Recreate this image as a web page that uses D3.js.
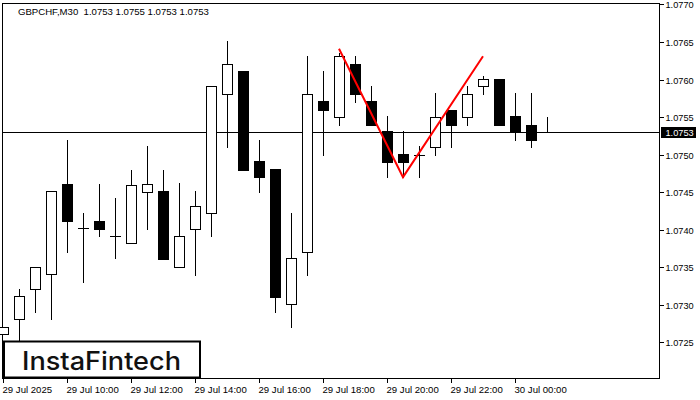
<!DOCTYPE html>
<html><head><meta charset="utf-8">
<script src="https://cdn.jsdelivr.net/npm/d3@7"></script>
<style>html,body{margin:0;padding:0;background:#fff;}svg{display:block;}</style>
</head><body>
<script>
const timeLabels = ["29 Jul 2025","29 Jul 10:00","29 Jul 12:00","29 Jul 14:00","29 Jul 16:00","29 Jul 18:00","29 Jul 20:00","29 Jul 22:00","30 Jul 00:00"];
const timeLabelIdx = [0,4,8,12,16,20,24,28,32];
const opens  = [1.07261,1.07281,1.07321,1.07341,1.07461,1.07402,1.07411,1.07391,1.07382,1.07450,1.07451,1.07351,1.07401,1.07422,1.07581,1.07611,1.07491,1.07481,1.07301,1.07371,1.07571,1.07550,1.07621,1.07571,1.07531,1.07501,1.07500,1.07510,1.07560,1.07550,1.07591,1.07601,1.07551,1.07540,1.0753];
const highs  = [1.07270,1.07321,1.07351,1.07451,1.07520,1.07422,1.07461,1.07442,1.07480,1.07511,1.07480,1.07462,1.07451,1.07591,1.07651,1.07611,1.07520,1.07481,1.07422,1.07631,1.07611,1.07635,1.07631,1.07591,1.07551,1.07531,1.07511,1.07582,1.07560,1.07591,1.07605,1.07601,1.07582,1.07582,1.0755];
const lows   = [1.07261,1.07253,1.07291,1.07281,1.07371,1.07331,1.07391,1.07362,1.07382,1.07401,1.07361,1.07351,1.07340,1.07391,1.07510,1.07479,1.07450,1.07291,1.07271,1.07340,1.07499,1.07539,1.07570,1.07540,1.07470,1.07470,1.07470,1.07500,1.07510,1.07540,1.07581,1.07540,1.07520,1.07510,1.0753];
const closes = [1.07270,1.07312,1.07351,1.07451,1.07411,1.07402,1.07401,1.07391,1.07460,1.07461,1.07361,1.07391,1.07431,1.07591,1.07621,1.07479,1.07470,1.07311,1.07362,1.07581,1.07559,1.07631,1.07581,1.07540,1.07490,1.07490,1.07500,1.07550,1.07540,1.07581,1.07601,1.07540,1.07531,1.07520,1.0753];
const yTicks = ["1.0770","1.0765","1.0760","1.0755","1.0750","1.0745","1.0740","1.0735","1.0730","1.0725"];
const patternIdx = [21,25,30];
const patternPrice = [1.07641,1.07470,1.07631];
const currentPrice = 1.0753;
const headerText = "GBPCHF,M30  1.0753 1.0755 1.0753 1.0753";

const W=700,H=400;
const svg=d3.select("body").append("svg").attr("width",W).attr("height",H);
const x=d3.scaleLinear().domain([0,34]).range([3,547]);
const y=d3.scaleLinear().domain([1.0725,1.0770]).range([342.4,4.4]);
const fontAxis='"Liberation Sans", Arial, sans-serif';

// frame
svg.append("rect").attr("x",2.5).attr("y",3.5).attr("width",657).attr("height",375)
  .attr("fill","none").attr("stroke","#000").attr("stroke-width",1);

// header
svg.append("text").attr("x",18).attr("y",15).attr("font-family",fontAxis).attr("font-size","9.6px")
  .attr("fill","#000").attr("xml:space","preserve").style("white-space","pre").text(headerText);

// y axis ticks & labels
const yg=svg.append("g");
yTicks.forEach(t=>{
  const yy=Math.round(y(+t))+0.5;
  yg.append("line").attr("x1",660).attr("x2",664).attr("y1",yy).attr("y2",yy).attr("stroke","#000");
  yg.append("text").attr("x",665.5).attr("y",yy).attr("dy","0.36em").attr("font-family",fontAxis)
    .attr("font-size","9.2px").attr("fill","#000").text(t);
});

// x axis ticks & labels
const xg=svg.append("g");
timeLabelIdx.forEach((idx,k)=>{
  const xx=Math.round(x(idx))+0.5;
  xg.append("line").attr("x1",xx).attr("x2",xx).attr("y1",379).attr("y2",383).attr("stroke","#000");
  xg.append("text").attr("x",xx-1).attr("y",393).attr("font-family",fontAxis)
    .attr("font-size","9.6px").attr("fill","#000").text(timeLabels[k]);
});

// price line
const py=Math.round(y(currentPrice))+0.5;
svg.append("line").attr("x1",3).attr("x2",659).attr("y1",py).attr("y2",py).attr("stroke","#000");

// candles
const cg=svg.append("g");
opens.forEach((o,i)=>{
  const c=Math.round(x(i));
  const hi=highs[i],lo=lows[i],cl=closes[i];
  const yH=Math.round(y(hi)),yL=Math.round(y(lo));
  const yT=Math.round(y(Math.max(o,cl))),yB=Math.round(y(Math.min(o,cl)));
  cg.append("line").attr("x1",c+0.5).attr("x2",c+0.5).attr("y1",yH).attr("y2",yL+1).attr("stroke","#000");
  if(yB-yT<1){
    cg.append("line").attr("x1",c-5).attr("x2",c+6).attr("y1",yT+0.5).attr("y2",yT+0.5).attr("stroke","#000");
  } else {
    cg.append("rect").attr("x",c-4.5).attr("y",yT+0.5).attr("width",10).attr("height",yB-yT)
      .attr("fill",cl<o?"#000":"#fff").attr("stroke","#000").attr("stroke-width",1);
  }
});

// pattern line
svg.append("path").attr("d",d3.line()(patternIdx.map((d,k)=>[x(d),y(patternPrice[k])])))
  .attr("fill","none").attr("stroke","#ff0000").attr("stroke-width",2);

// current price label
svg.append("rect").attr("x",661).attr("y",py-5.5).attr("width",35).attr("height",11).attr("fill","#000");
svg.append("text").attr("x",665.5).attr("y",py).attr("dy","0.36em").attr("font-family",fontAxis)
  .attr("font-size","9.2px").attr("fill","#fff").text(currentPrice.toFixed(4));

// logo box
svg.append("rect").attr("x",4).attr("y",341.5).attr("width",196).attr("height",36)
  .attr("fill","#fff").attr("stroke","#000").attr("stroke-width",2);
svg.append("text").attr("x",22).attr("y",369.5).attr("font-family",'Inter, "Noto Sans", sans-serif')
  .attr("font-weight",500).attr("font-size","25px").attr("fill","#111")
  .attr("textLength",159).attr("lengthAdjust","spacingAndGlyphs").text("InstaFintech");
</script>
</body></html>
